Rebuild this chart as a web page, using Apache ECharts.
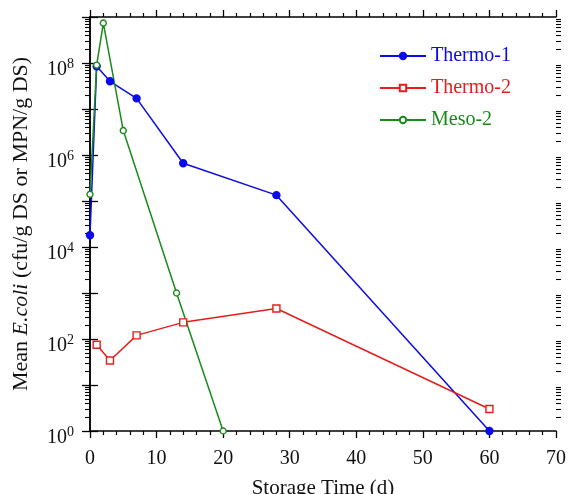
<!DOCTYPE html>
<html>
<head>
<meta charset="utf-8">
<script src="https://cdn.jsdelivr.net/npm/echarts@6/dist/echarts.min.js"></script>
<style>
  html, body { margin: 0; padding: 0; background: #fff; }
  #chart { width: 568px; height: 494px; }
</style>
</head>
<body>
<div id="chart"></div>
<script>
// Storage time (days) and mean E. coli counts per treatment
const thermo1Days = [0, 1, 3, 7, 14, 28, 60];
const thermo1Counts = [1.8e4, 8.5e7, 4.0e7, 1.7e7, 6.6e5, 1.34e5, 1];

const thermo2Days = [1, 3, 7, 14, 28, 60];
const thermo2Counts = [75, 34, 120, 230, 460, 3];

const meso2Days = [0, 1, 2, 5, 13, 20];
const meso2Counts = [1.4e5, 9.0e7, 7.4e8, 3.4e6, 1000, 1];

const seriesNames = ['Thermo-1', 'Thermo-2', 'Meso-2'];
const seriesColors = ['#0a0aea', '#e81c1c', '#1a8a1a'];

const xMin = 0, xMax = 70, xStep = 10;
const yMin = 1, yMax = 1e9;

// Minor log ticks: 2..9 times each power of ten inside the axis range
const logMinorTicks = [];
for (let p = yMin; p < yMax; p *= 10) {
  for (let m = 2; m <= 9; m++) logMinorTicks.push(m * p);
}

const FONT = '"Liberation Serif", "Times New Roman", serif';

function pairs(xs, ys) { return xs.map((x, i) => [x, ys[i]]); }

const chart = echarts.init(document.getElementById('chart'), null, { renderer: 'canvas' });

const axisLine = { show: true, lineStyle: { color: '#000', width: 1.5 } };

function xAxisDef(pos, withLabels) {
  return {
    type: 'value', position: pos, min: xMin, max: xMax, interval: xStep,
    axisLine: axisLine,
    axisTick: { show: true, inside: false, length: 7, lineStyle: { color: '#000', width: 1.3 } },
    minorTick: { show: true, splitNumber: 5, length: 4, lineStyle: { color: '#000', width: 1.2 } },
    splitLine: { show: false },
    axisLabel: withLabels ? { show: true, margin: 18, color: '#111', fontFamily: FONT, fontSize: 20 } : { show: false },
    name: withLabels ? 'Storage Time (d)' : '',
    nameLocation: 'middle', nameGap: 47,
    nameTextStyle: { color: '#111', fontFamily: FONT, fontSize: 21 }
  };
}

function yAxisDef(pos, withLabels) {
  return {
    type: 'log', logBase: 10, position: pos, min: yMin, max: yMax, interval: 1,
    axisLine: axisLine,
    axisTick: { show: true, inside: false, length: 8, lineStyle: { color: '#000', width: 1.3 } },
    minorTick: { show: false },
    splitLine: { show: false },
    axisLabel: withLabels ? {
      show: true, margin: 16, padding: [9, 0, 0, 0],
      formatter: function (v) {
        const e = Math.round(Math.log10(v));
        if (e % 2 !== 0) return '';
        return '{b|10}{s|' + e + '}';
      },
      rich: {
        b: { fontFamily: FONT, fontSize: 20, color: '#111', lineHeight: 20, padding: [5, 0, 0, 0] },
        s: { fontFamily: FONT, fontSize: 14, color: '#111', lineHeight: 14, verticalAlign: 'top' }
      }
    } : { show: false },
    name: withLabels ? '{n|Mean }{i|E.coli}{n| (cfu/g DS or MPN/g DS)}' : '',
    nameLocation: 'middle', nameGap: 58, nameRotate: 90,
    nameTextStyle: {
      rich: {
        n: { fontFamily: FONT, fontSize: 22, color: '#111' },
        i: { fontFamily: FONT, fontSize: 22, color: '#111', fontStyle: 'italic' }
      }
    }
  };
}

// Overlaid log axis that only carries the short minor ticks
function yMinorDef(pos) {
  return {
    type: 'log', logBase: 10, position: pos, min: yMin, max: yMax,
    axisLine: { show: false },
    axisTick: { show: true, inside: false, length: 5, customValues: logMinorTicks,
                lineStyle: { color: '#000', width: 1.1 } },
    axisLabel: { show: false },
    splitLine: { show: false }
  };
}

function lineSeries(name, data, color, symbol, size, filled) {
  return {
    name: name, type: 'line', data: data, clip: false,
    symbol: symbol, symbolSize: size, showSymbol: true,
    lineStyle: { color: color, width: 1.5 },
    itemStyle: { color: filled ? color : '#fff', borderColor: color, borderWidth: 1.4 },
    emphasis: { disabled: true },
    z: 3
  };
}

chart.setOption({
  animation: false,
  backgroundColor: '#fff',
  grid: { left: 90, right: 12, top: 17, bottom: 63, containLabel: false, outerBoundsMode: 'none' },
  legend: {
    orient: 'vertical', left: 374, top: 41, itemGap: 12,
    itemWidth: 46, itemHeight: 8,
    textStyle: { fontFamily: FONT, fontSize: 20 },
    data: seriesNames.map((n, i) => ({ name: n, textStyle: { color: seriesColors[i] } }))
  },
  xAxis: [xAxisDef('bottom', true), xAxisDef('top', false)],
  yAxis: [yAxisDef('left', true), yAxisDef('right', false), yMinorDef('left'), yMinorDef('right')],
  series: [
    lineSeries(seriesNames[0], pairs(thermo1Days, thermo1Counts), seriesColors[0], 'circle', 7, true),
    lineSeries(seriesNames[1], pairs(thermo2Days, thermo2Counts), seriesColors[1], 'rect', 7, false),
    lineSeries(seriesNames[2], pairs(meso2Days, meso2Counts), seriesColors[2], 'circle', 6, false)
  ]
});
</script>
</body>
</html>
